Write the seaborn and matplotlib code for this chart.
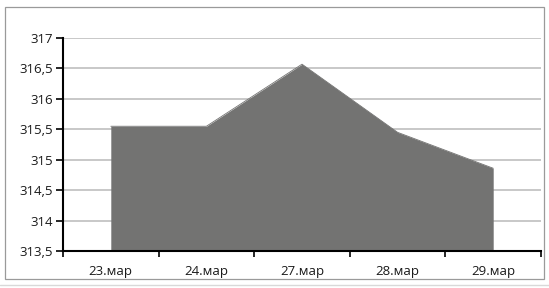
import numpy as np
import pandas as pd
import matplotlib
matplotlib.use('Agg')
import matplotlib.pyplot as plt
import matplotlib.ticker as mticker
from matplotlib.patches import Rectangle
from matplotlib.lines import Line2D
import seaborn as sns

## data
dates = ['23.мар', '24.мар', '27.мар', '28.мар', '29.мар']
values = [315.55, 315.55, 316.57, 315.45, 314.86]
yticks = [313.5, 314, 314.5, 315, 315.5, 316, 316.5, 317]

df = pd.DataFrame({'date': dates, 'value': values})
df['pos'] = np.arange(len(dates))

sns.set_style('white')
plt.rcParams['font.family'] = ['Open Sans', 'DejaVu Sans']

fig = plt.figure(figsize=(5.49, 2.88), dpi=100)
ax = fig.add_axes([63/549, 37/288, (541-63)/549, (251-38)/288])

## gray area
ax.fill_between(df['pos'], yticks[0], df['value'], color='#737372', linewidth=0, zorder=2)
sns.lineplot(data=df, x='pos', y='value', color='#737372', linewidth=0.6, ax=ax, zorder=3)

ax.set_xlim(-0.5, len(dates) - 0.5)
ax.set_ylim(yticks[0], yticks[-1])
ax.set(xlabel='', ylabel='')

## y axis
ax.set_yticks(yticks)
ax.yaxis.set_major_formatter(mticker.FuncFormatter(
    lambda v, p: ('%g' % v).replace('.', ',')))
ax.tick_params(axis='y', which='major', direction='out', length=5, width=1.2,
               color='black', pad=2, labelsize=9.5, labelcolor='#1a1a1a', left=True)
ax.grid(axis='y', color='#c4c4c4', linewidth=1.3, zorder=0)
ax.set_axisbelow(True)

## x axis: labels at centres, ticks at boundaries
ax.set_xticks(df['pos'])
ax.set_xticklabels(dates)
ax.set_xticks(np.arange(len(dates) + 1) - 0.5, minor=True)
ax.tick_params(axis='x', which='major', length=0, pad=10, labelsize=9.5, labelcolor='#1a1a1a')
ax.tick_params(axis='x', which='minor', direction='out', length=4, width=1.2,
               color='black', bottom=True)

for s in ['top', 'right']:
    ax.spines[s].set_visible(False)
for s in ['left', 'bottom']:
    ax.spines[s].set_color('black')
    ax.spines[s].set_linewidth(1.5)
    ax.spines[s].set_zorder(4)

## chart frame
fig.patches.append(Rectangle((5/549, 9/288), 539/549, 272/288, transform=fig.transFigure,
                             fill=False, edgecolor='#9a9a9a', linewidth=0.9))
fig.lines.append(Line2D([0, 1], [3/288, 3/288], transform=fig.transFigure,
                        color='#d9d9d9', linewidth=1.0))

plt.savefig('out.png', dpi=100)
